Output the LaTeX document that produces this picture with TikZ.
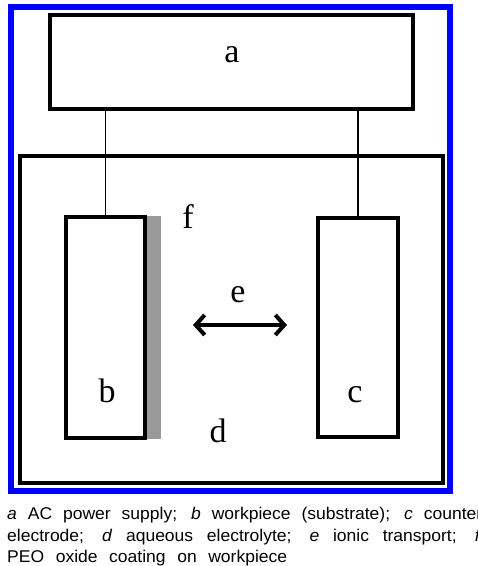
\documentclass[tikz,border=0pt]{standalone}
\usepackage{fontspec}
\setmainfont{Liberation Serif}
\newfontfamily\capfont[FakeStretch=1.03]{Liberation Sans}
\usepackage{tikz}
\usetikzlibrary{arrows.meta, positioning}

\begin{document}
\begin{tikzpicture}[x=1pt, y=-1pt,
        box/.style={rectangle, draw=black, line width=3.5pt, fill=white, inner sep=0pt},
        label/.style={inner sep=0pt, anchor=base, font=\fontsize{34}{38}\selectfont},
        link/.style={draw=black, line width=1.3pt},
        flux/.style={{Straight Barb[length=9pt, width=20pt]}-{Straight Barb[length=9pt, width=20pt]}, line width=4pt},
        caption/.style={inner sep=0pt, anchor=base west, font=\capfont\fontsize{17}{20}\selectfont}
    ]
        \clip (0,0) rectangle (478,566);
        \fill[white] (0,0) rectangle (478,566);

        % frame
        \draw[blue, line width=6pt] (11,7) rectangle (450,491);

        % power supply and cell
        \node[box, minimum width=363pt, minimum height=94pt] (a) at (231.5,62) {};
        \node[box, line width=4.5pt, minimum width=423pt, minimum height=327pt, fill=none] (d) at (231.5,319.5) {};
        \node[rectangle, fill=black!40, minimum width=15pt, minimum height=223pt, inner sep=0pt] (f) at (153.5,327.5) {};
        \node[box, minimum width=79pt, minimum height=221pt] (b) at (105.5,327.5) {};
        \node[box, minimum width=80pt, minimum height=219pt] (c) at (358,327.5) {};

        % letters
        \node[label] (la) at (232,62) {a};
        \node[label] (lb) at (107,402) {b};
        \node[label] (lc) at (355,402) {c};
        \node[label] (ld) at (218,442) {d};
        \node[label] (le) at (238,302) {e};
        \node[label] (lf) at (188,228) {f};

        % ion transport
        \coordinate (eL) at (193,325);
        \coordinate (eR) at (287,325);
        \draw[flux] (eL) -- (eR);

        % wires
        \draw[link] (b.north) -- (b.north |- a.south);
        \draw[link] (c.north) -- (c.north |- a.south);

        % caption
        \node[caption] (cap1) at (7,519.5) {\makebox[475pt][s]{\textit{a} AC power supply; \textit{b} workpiece (substrate); \textit{c} counter}};
        \node[caption] (cap2) at (7,541) {\makebox[474pt][s]{electrode; \textit{d} aqueous electrolyte; \textit{e} ionic transport; \textit{f}}};
        \node[caption] (cap3) at (7,562) {\makebox[280pt][s]{PEO oxide coating on workpiece}};
    \end{tikzpicture}
\end{document}
